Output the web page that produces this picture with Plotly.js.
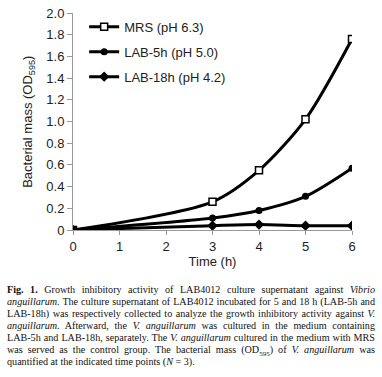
<!DOCTYPE html>
<html>
<head>
<meta charset="utf-8">
<script src="https://cdn.plot.ly/plotly-3.0.1.min.js"></script>
<style>
  html, body { margin: 0; padding: 0; background: #fff; width: 382px; height: 377px; overflow: hidden; }
  #chart { position: absolute; left: 0; top: 0; width: 382px; height: 280px; }
  #caption { position: absolute; left: 7px; top: 284px; width: 368px;
    font-family: "Liberation Serif", "DejaVu Serif", serif; font-size: 10.15px; line-height: 12px; color: #111; }
  #caption div { text-align: justify; text-align-last: justify; white-space: normal; height: 12px; }
  #caption div.last { text-align-last: left; }
  #caption sub { font-size: 7px; line-height: 0; }
</style>
</head>
<body>
<div id="chart"></div>
<div id="caption">
  <div><b>Fig. 1.</b> Growth inhibitory activity of LAB4012 culture supernatant against <i>Vibrio</i></div>
  <div><i>anguillarum</i>. The culture supernatant of LAB4012 incubated for 5 and 18 h (LAB-5h and</div>
  <div>LAB-18h) was respectively collected to analyze the growth inhibitory activity against <i>V.</i></div>
  <div><i>anguillarum</i>. Afterward, the <i>V. anguillarum</i> was cultured in the medium containing</div>
  <div>LAB-5h and LAB-18h, separately. The <i>V. anguillarum</i> cultured in the medium with MRS</div>
  <div>was served as the control group. The bacterial mass (OD<sub>595</sub>) of <i>V. anguillarum</i> was</div>
  <div class="last">quantified at the indicated time points (<i>N</i> = 3).</div>
</div>
<script>
const timeH = [0, 3, 4, 5, 6];
const mrs = [0, 0.26, 0.55, 1.02, 1.76];
const lab5h = [0, 0.11, 0.18, 0.31, 0.57];
const lab18h = [0, 0.04, 0.05, 0.04, 0.04];
const seriesNames = ['MRS (pH 6.3)', 'LAB-5h (pH 5.0)', 'LAB-18h (pH 4.2)'];
const xTicks = [0, 1, 2, 3, 4, 5, 6];
const yTicks = [0, 0.2, 0.4, 0.6, 0.8, 1.0, 1.2, 1.4, 1.6, 1.8, 2.0];
const yTickText = ['0', '0.2', '0.4', '0.6', '0.8', '1.0', '1.2', '1.4', '1.6', '1.8', '2.0'];
const yTitle = 'Bacterial mass (OD<sub>595</sub>)';
const xTitle = 'Time (h)';

const lineStyle = {color: '#000', width: 3, shape: 'spline', smoothing: 0.8};
const traces = [
  {x: timeH, y: mrs, name: seriesNames[0], mode: 'lines+markers', line: lineStyle, legendgroup: 'a',
   marker: {symbol: 'square', size: 7, color: '#fff', line: {color: '#000', width: 1.5}}},
  {x: timeH, y: lab5h, name: seriesNames[1], mode: 'lines+markers', line: lineStyle, legendgroup: 'b',
   marker: {symbol: 'circle', size: 7, color: '#000'}},
  {x: timeH, y: lab18h, name: seriesNames[2], mode: 'lines+markers', line: lineStyle, legendgroup: 'c',
   marker: {symbol: 'diamond', size: 8, color: '#000'}}
];

const layout = {
  width: 382, height: 280,
  margin: {l: 73, r: 30, t: 13, b: 50},
  paper_bgcolor: '#fff', plot_bgcolor: '#fff',
  font: {family: 'Liberation Sans, Arial, sans-serif', size: 13, color: '#222'},
  showlegend: true,
  legend: {x: 0.04, y: 1.005, xanchor: 'left', yanchor: 'top', bgcolor: 'rgba(0,0,0,0)',
           font: {size: 13, color: '#222'}, traceorder: 'grouped', tracegroupgap: 5},
  xaxis: {range: [0, 6], tickvals: xTicks, ticktext: xTicks.map(String), showgrid: false, zeroline: false,
          showline: true, linecolor: '#999', linewidth: 1, ticks: 'outside', ticklen: 4, tickcolor: '#999',
          title: {text: xTitle, font: {size: 13, color: '#222'}, standoff: 4}},
  yaxis: {range: [0, 2], tickvals: yTicks, ticktext: yTickText, showgrid: false, zeroline: false,
          showline: true, linecolor: '#999', linewidth: 1, ticks: 'outside', ticklen: 5, tickcolor: '#999'},
  annotations: [
    {text: yTitle, xref: 'paper', yref: 'paper', x: -0.16, y: 0.5, xanchor: 'center', yanchor: 'middle',
     textangle: -90, showarrow: false, font: {size: 13, color: '#222'}}
  ]
};

Plotly.newPlot('chart', traces, layout, {displayModeBar: false, staticPlot: true});
</script>
</body>
</html>
